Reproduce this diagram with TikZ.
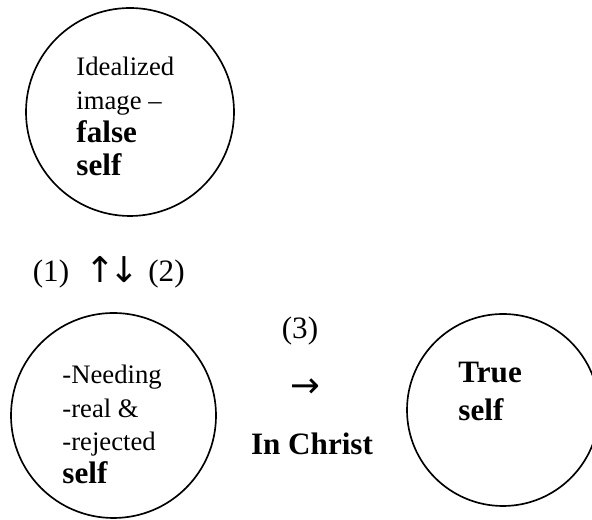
\documentclass[tikz,border=0pt]{standalone}
\usepackage{fontspec}
\setmainfont{Liberation Serif}
\newfontfamily\arrowfont{DejaVu Sans}
\usepackage{tikz}
\usetikzlibrary{positioning}

\newcommand{\txtreg}{\fontsize{12pt}{15pt}\selectfont}
\newcommand{\txtbig}{\fontsize{14pt}{17pt}\selectfont}
\newcommand{\txtbold}{\fontsize{14pt}{15pt}\selectfont\bfseries}
\newcommand{\txtarrow}{\arrowfont\fontsize{16pt}{18pt}\selectfont}

\tikzset{
  selfcirc/.style={draw, circle, line width=0.75pt, inner sep=0pt},
  selftext/.style={align=left, inner sep=0pt, anchor=north west, font=\txtreg},
  steplabel/.style={inner sep=0pt, anchor=base, font=\txtbig},
}

\begin{document}
\begin{tikzpicture}[x=0.45pt, y=0.45pt]
\useasboundingbox (0,0) rectangle (592,520);
% the three selves
\node[selfcirc, minimum size=93.6pt] (falseself) at (130,408) {};
\node[selfcirc, minimum size=92.25pt] (needself) at (113.5,104.5) {};
\node[selfcirc, minimum size=86.4pt] (trueself) at (503,110) {};
\node[selftext] (falsetext) at (76,463) {Idealized\\image –\\{\txtbold false}\\{\txtbold self}};
\node[selftext] (needtext) at (62,155) {-Needing\\-real \&\\-rejected\\{\txtbold self}};
\node[selftext, font=\txtbig\bfseries] (truetext) at (458,158) {True\\self};
% steps between them
\node[steplabel] (lblone) at (51,238) {(1)};
\node[inner sep=0pt, font=\txtarrow] (updown) at (112.5,250) {↑\kern-2.5pt↓};
\node[steplabel] (lbltwo) at (166.5,238) {(2)};
\node[steplabel] (lblthree) at (300,181) {(3)};
\node[inner sep=0pt, font=\txtarrow] (toarrow) at (305,132) {→};
\node[steplabel, font=\txtbig\bfseries] (inchrist) at (312,65) {In Christ};
\end{tikzpicture}
\end{document}
